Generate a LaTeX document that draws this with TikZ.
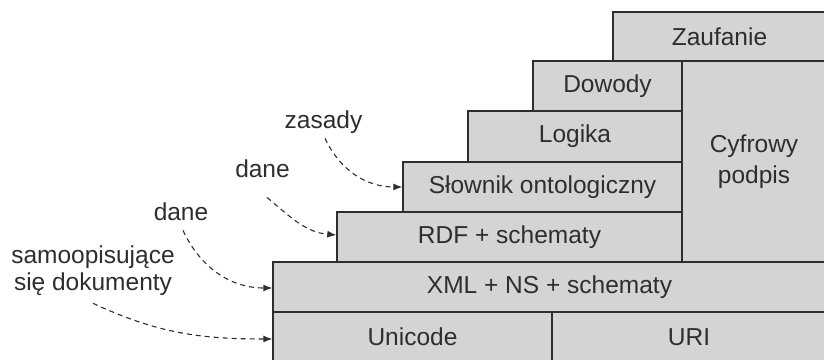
\documentclass[tikz,border=0pt]{standalone}
\usepackage{fontspec}
\setmainfont{Liberation Sans}
\usetikzlibrary{arrows.meta}
\definecolor{boxfill}{HTML}{D4D4D4}
\definecolor{ink}{HTML}{2E2E2E}
\begin{document}
\begin{tikzpicture}[x=1pt,y=1pt,
  layer/.style={draw=ink, line width=1.4pt, fill=boxfill, inner sep=0pt, text=ink,
    font=\fontsize{24.5}{31}\selectfont, align=center, minimum height=50},
  lab/.style={text=ink, inner sep=4pt, font=\fontsize{24.5}{27}\selectfont, anchor=base, align=center},
  conn/.style={draw=ink, line width=1.1pt, dash pattern=on 5pt off 4pt,
    -{Latex[length=9pt,width=7pt]}}]
\useasboundingbox (0,0) rectangle (824,359);
% layers
\node[layer, minimum width=279] (uni) at (412.5,22) {Unicode};
\node[layer, minimum width=274] (uri) at (689,22) {URI};
\node[layer, minimum width=553] (xml) at (549.5,72) {XML + NS + schematy};
\node[layer, minimum width=144, minimum height=201] (cyf) at (754,197.5) {Cyfrowy\\podpis};
\node[layer, minimum width=345] (rdf) at (509.5,122) {RDF + schematy};
\node[layer, minimum width=279] (slow) at (542.5,172) {Słownik ontologiczny};
\node[layer, minimum width=214, minimum height=51] (log) at (575,222.5) {Logika};
\node[layer, minimum width=149] (dow) at (607.5,273) {Dowody};
\node[layer, minimum width=213, minimum height=49] (zau) at (719.5,322.5) {Zaufanie};
% labels
\node[lab] (zas) at (323.5,230) {zasady};
\node[lab] (dane1) at (262.5,181) {dane};
\node[lab] (dane2) at (181,139) {dane};
\node[lab] (samo) at (93,69) {samoopisujące\\się dokumenty};
% connectors
\draw[conn] ([xshift=1.5pt]zas.south) to[out=-65,in=180] (slow.west);
\draw[conn] ([xshift=4.5pt,yshift=-15pt]dane1.south) to[out=-40,in=175] ([yshift=2pt]rdf.west);
\draw[conn] ([xshift=2pt,yshift=-6pt]dane2.south) to[out=-65,in=180] ([yshift=-1pt]xml.west);
\draw[conn] ([yshift=-4pt]samo.south) to[out=-25,in=180] ([yshift=-2pt]uni.west);
\end{tikzpicture}
\end{document}
